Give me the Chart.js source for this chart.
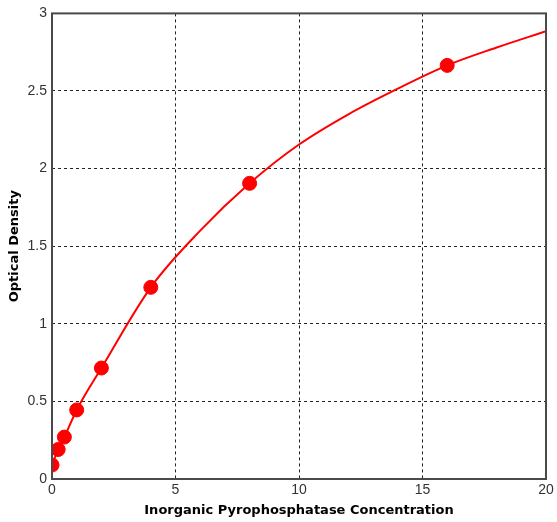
<!DOCTYPE html>
<html>
<head>
<meta charset="utf-8">
<script src="https://cdn.jsdelivr.net/npm/chart.js@4/dist/chart.umd.min.js"></script>
<style>
html,body{margin:0;padding:0;background:#fff}
#wrap{width:557px;height:522px}
</style>
</head>
<body>
<div id="wrap"><canvas id="graph" width="557" height="522"></canvas></div>
<script>
// standard points
let concX=[0,0.25,0.5,1,2,4,8,16]
let odY=[0.09,0.19,0.27,0.445,0.715,1.235,1.905,2.665]

// fitted curve
let curveX=[0,0.25,0.5,1,2,4,6,8,10,12,14,16,18,20]
let curveY=[0.09,0.19,0.27,0.445,0.715,1.235,1.6,1.905,2.155,2.35,2.515,2.665,2.78,2.885]

let xTicks=[0,5,10,15,20]
let yTicks=[0,0.5,1,1.5,2,2.5,3]

let tickFont={family:"'Liberation Sans', Arial, sans-serif",size:14}
let titleFont={family:"'DejaVu Sans', sans-serif",size:13,weight:"bold"}

let frame={
id:"frame",
afterDraw(chart){
let a=chart.chartArea
let c=chart.ctx
c.save()
c.strokeStyle="#4a4a4a"
c.lineWidth=2
c.strokeRect(a.left,a.top,a.right-a.left,a.bottom-a.top)
c.restore()
}
}

let ctx=document.getElementById("graph").getContext("2d")

let chart=new Chart(ctx,{
type:"scatter",
data:{
datasets:[{
label:"curve",
data:curveX.map((x,i)=>({x:x,y:curveY[i]})),
showLine:true,
borderColor:"#ff0000",
borderWidth:2,
pointRadius:0,
cubicInterpolationMode:"monotone",
order:2
},{
label:"standards",
data:concX.map((x,i)=>({x:x,y:odY[i]})),
backgroundColor:"#ff0000",
borderColor:"#ff0000",
pointRadius:7,
pointHoverRadius:7,
order:1
}]
},
options:{
responsive:false,
animation:false,
layout:{padding:{top:12,right:11,left:0,bottom:0}},
plugins:{legend:{display:false},tooltip:{enabled:false}},
scales:{
x:{
type:"linear",
min:0,max:20,
afterBuildTicks(s){s.ticks=xTicks.map(v=>({value:v}))},
afterFit(s){s.height=43},
grid:{color:"#222",lineWidth:1,drawTicks:false,tickLength:0},
border:{display:false,dash:[3,3]},
ticks:{color:"#333",font:tickFont,padding:3,maxRotation:0,callback:v=>String(v)},
title:{display:true,text:"Inorganic Pyrophosphatase Concentration",color:"#000",font:titleFont,padding:{top:0,bottom:4}}
},
y:{
type:"linear",
min:0,max:3,
afterBuildTicks(s){s.ticks=yTicks.map(v=>({value:v}))},
afterFit(s){s.width=52},
grid:{color:"#222",lineWidth:1,drawTicks:false,tickLength:0},
border:{display:false,dash:[3,3]},
ticks:{color:"#333",font:tickFont,padding:5,callback:v=>String(v)},
title:{display:true,text:"Optical Density",color:"#000",font:titleFont,padding:{top:7,bottom:0}}
}
}
},
plugins:[frame]
})
</script>
</body>
</html>
